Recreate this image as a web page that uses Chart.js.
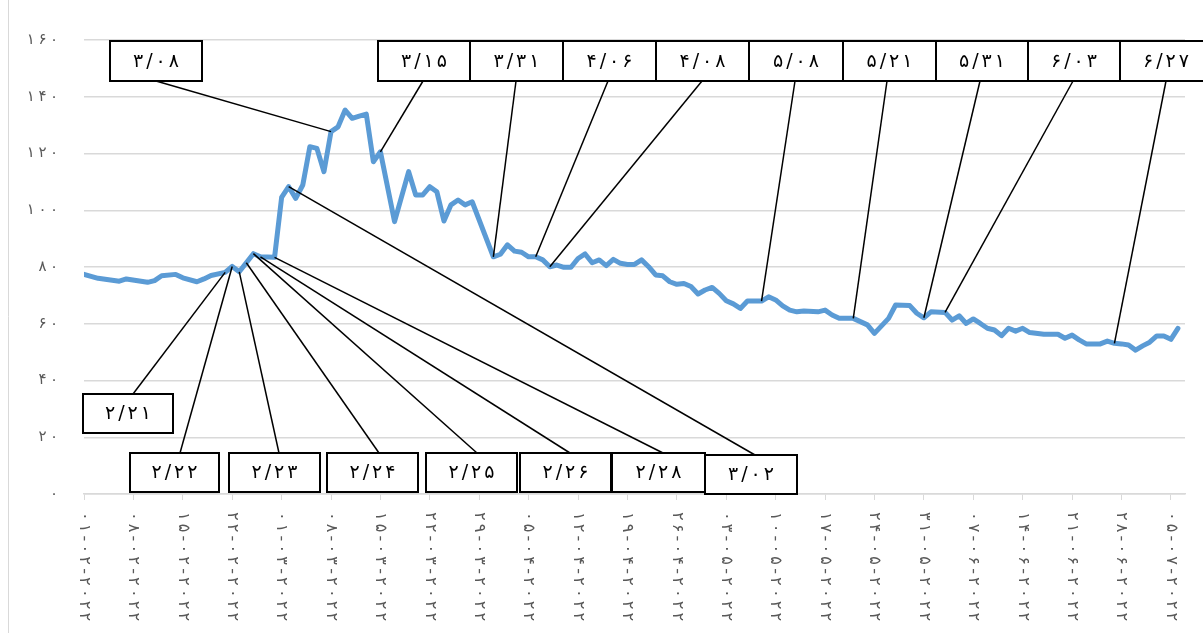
<!DOCTYPE html>
<html>
<head>
<meta charset="utf-8">
<script src="https://cdn.jsdelivr.net/npm/chart.js@4.4.0/dist/chart.umd.min.js"></script>
<style>
  html, body { margin: 0; padding: 0; background: #fff; }
  #wrap { width: 1203px; height: 633px; position: relative; }
</style>
</head>
<body>
<div id="wrap"><canvas id="chart"></canvas></div>
<script>
const year = 2022;
const startDate = '2022-02-01';
const endDay = 156;

// dates of the line's vertices (MM-DD) and the values read at them
const pointDates = [
  '02-01','02-03','02-06','02-07','02-10','02-11','02-12','02-14','02-15','02-17',
  '02-18','02-19','02-21','02-22','02-23','02-25','02-26','02-28','03-01','03-02',
  '03-03','03-04','03-05','03-06','03-07','03-08','03-09','03-10','03-11','03-12',
  '03-13','03-14','03-15','03-17','03-19','03-20','03-21','03-22','03-23','03-24',
  '03-25','03-26','03-27','03-28','03-31','04-01','04-02','04-03','04-04','04-05',
  '04-06','04-07','04-08','04-09','04-10','04-11','04-12','04-13','04-14','04-15',
  '04-16','04-17','04-18','04-19','04-20','04-21','04-22','04-23','04-24','04-25',
  '04-26','04-27','04-28','04-29','04-30','05-01','05-02','05-03','05-04','05-05',
  '05-06','05-08','05-09','05-10','05-11','05-12','05-13','05-14','05-16','05-17',
  '05-18','05-19','05-21','05-23','05-24','05-26','05-27','05-29','05-30','05-31',
  '06-01','06-03','06-04','06-05','06-06','06-07','06-08','06-09','06-10','06-11',
  '06-12','06-13','06-14','06-15','06-17','06-19','06-20','06-21','06-22','06-23',
  '06-25','06-26','06-27','06-28','06-29','06-30','07-01','07-02','07-03','07-04',
  '07-05','07-06'
];
const pointValues = [
  77.4, 76.0, 75.0, 75.8, 74.6, 75.2, 76.9, 77.4, 76.2, 74.8,
  75.8, 77.0, 78.1, 80.2, 78.3, 84.7, 83.6, 83.4, 104.5, 108.3,
  104.2, 108.9, 122.4, 121.8, 113.6, 127.7, 129.4, 135.3, 132.4, 133.2,
  133.9, 117.1, 120.6, 96.0, 113.6, 105.4, 105.4, 108.3, 106.5, 96.2,
  101.9, 103.6, 101.9, 103.0, 83.6, 84.5, 87.8, 85.6, 85.2, 83.6,
  83.6, 82.5, 80.1, 80.7, 79.9, 79.9, 83.0, 84.6, 81.5, 82.5,
  80.5, 82.7, 81.3, 80.9, 80.9, 82.5, 80.1, 77.2, 76.9, 74.8,
  73.9, 74.2, 73.1, 70.5, 71.9, 72.8, 70.7, 68.1, 67.0, 65.4,
  68.0, 68.0, 69.5, 68.4, 66.3, 64.8, 64.2, 64.5, 64.2, 64.8,
  63.1, 61.9, 61.9, 59.6, 56.6, 61.9, 66.6, 66.4, 63.7, 62.1,
  64.2, 64.0, 61.3, 62.8, 60.1, 61.7, 60.1, 58.4, 57.8, 55.8,
  58.4, 57.4, 58.4, 56.9, 56.3, 56.3, 54.9, 56.0, 54.3, 52.9,
  52.9, 53.9, 53.1, 52.9, 52.5, 50.7, 52.2, 53.5, 55.7, 55.7,
  54.5, 58.4
];

const yTickValues = [0, 20, 40, 60, 80, 100, 120, 140, 160];

// annotated dates (MM-DD)
const calloutDates = [
  '02-21','02-22','02-23','02-24','02-25','02-26','02-28','03-02',
  '03-08','03-15','03-31','04-06','04-08','05-08','05-21','05-31','06-03','06-27'
];
// box placement for each callout: [left, top, width, height, leader x, leader y]
const calloutBoxes = [
  [83, 394, 90, 39, 133, 394],
  [130, 453, 89, 39, 180, 453],
  [229, 453, 91, 39, 279, 453],
  [327, 453, 91, 39, 379, 453],
  [426, 453, 91, 39, 477, 453],
  [520, 453, 91, 39, 570, 453],
  [612, 453, 93, 39, 663, 453],
  [705, 455, 92, 39, 755, 455],
  [110, 41, 92, 40, 156, 81],
  [378, 41, 92, 40, 423, 81],
  [470, 41, 93, 40, 516, 81],
  [563, 41, 93, 40, 608, 81],
  [656, 41, 93, 40, 702, 81],
  [749, 41, 94, 40, 795, 81],
  [843, 41, 93, 40, 887, 81],
  [936, 41, 92, 40, 980, 81],
  [1028, 41, 92, 40, 1073, 81],
  [1120, 41, 92, 40, 1166, 81]
];

const faDigits = '۰۱۲۳۴۵۶۷۸۹';
function toFa(s) {
  return String(s).replace(/\d/g, d => faDigits[d]);
}
function dayIndex(md) {
  return (Date.parse(year + '-' + md) - Date.parse(startDate)) / 86400000;
}
function dateLabel(day) {
  const d = new Date(Date.parse(startDate) + day * 86400000);
  const dd = String(d.getUTCDate()).padStart(2, '0');
  const mm = String(d.getUTCMonth() + 1).padStart(2, '0');
  return toFa(dd + '-' + mm + '-' + d.getUTCFullYear());
}
function calloutText(md) {
  const [m, d] = md.split('-');
  return toFa(parseInt(m, 10) + '/' + d);
}

// draw text char by char with extra spacing; align = 'left' | 'center' | 'right'
function spacedText(ctx, text, x, y, gap, align) {
  const chars = Array.from(text);
  const widths = chars.map(c => ctx.measureText(c).width);
  const total = widths.reduce((a, b) => a + b, 0) + gap * (chars.length - 1);
  let cx = align === 'right' ? x - total : align === 'center' ? x - total / 2 : x;
  ctx.textAlign = 'left';
  chars.forEach((c, i) => {
    ctx.fillText(c, cx, y);
    cx += widths[i] + gap;
  });
}

const points = pointDates.map((md, i) => ({ x: dayIndex(md), y: pointValues[i] }));

function valueAt(day) {
  for (let i = 1; i < points.length; i++) {
    if (points[i].x >= day) {
      const a = points[i - 1], b = points[i];
      return a.y + (b.y - a.y) * (day - a.x) / (b.x - a.x);
    }
  }
  return points[points.length - 1].y;
}

const overlay = {
  id: 'overlay',
  afterDatasetsDraw(chart) {
    const ctx = chart.ctx;
    const xs = chart.scales.x;
    const ys = chart.scales.y;
    ctx.save();

    // outer frame line on the left
    ctx.strokeStyle = '#d9d9d9';
    ctx.lineWidth = 1;
    ctx.beginPath();
    ctx.moveTo(8.5, 0);
    ctx.lineTo(8.5, 633);
    ctx.stroke();

    // y tick labels
    ctx.fillStyle = '#595959';
    ctx.font = '15px "DejaVu Sans"';
    ctx.textBaseline = 'middle';
    ys.ticks.forEach(t => {
      spacedText(ctx, toFa(t.value), 58, ys.getPixelForValue(t.value), 3.5, 'right');
    });

    // x tick labels, turned clockwise
    ctx.font = '16px "DejaVu Sans"';
    xs.ticks.forEach(t => {
      const px = xs.getPixelForValue(t.value);
      ctx.save();
      ctx.translate(px, 512);
      ctx.rotate(Math.PI / 2);
      spacedText(ctx, dateLabel(t.value), 0, 0, 3.2, 'left');
      ctx.restore();
    });

    // leader lines
    ctx.strokeStyle = '#000';
    ctx.lineWidth = 1.5;
    calloutDates.forEach((md, i) => {
      const b = calloutBoxes[i];
      const day = dayIndex(md);
      const tx = xs.getPixelForValue(day);
      const ty = ys.getPixelForValue(valueAt(day));
      ctx.beginPath();
      ctx.moveTo(b[4], b[5]);
      ctx.lineTo(tx, ty);
      ctx.stroke();
    });

    // boxes
    ctx.font = '19px "DejaVu Sans"';
    calloutDates.forEach((md, i) => {
      const b = calloutBoxes[i];
      ctx.fillStyle = '#fff';
      ctx.fillRect(b[0], b[1], b[2], b[3]);
      ctx.strokeStyle = '#000';
      ctx.lineWidth = 2;
      ctx.strokeRect(b[0], b[1], b[2], b[3]);
      ctx.fillStyle = '#000';
      spacedText(ctx, calloutText(md), b[0] + b[2] / 2, b[1] + b[3] / 2 + 1, 3, 'center');
    });

    ctx.restore();
  }
};

new Chart(document.getElementById('chart'), {
  type: 'line',
  data: {
    datasets: [{
      data: points,
      borderColor: '#5b9bd5',
      borderWidth: 5,
      pointRadius: 0,
      tension: 0,
      borderJoinStyle: 'round',
      borderCapStyle: 'round',
      fill: false
    }]
  },
  options: {
    responsive: true,
    maintainAspectRatio: false,
    animation: false,
    layout: { padding: { top: 40, right: 18, left: 0, bottom: 0 } },
    plugins: {
      legend: { display: false },
      tooltip: { enabled: false }
    },
    scales: {
      x: {
        type: 'linear',
        min: 0,
        max: endDay,
        afterBuildTicks: s => {
          const t = [];
          for (let v = 0; v <= endDay; v += 7) t.push({ value: v });
          s.ticks = t;
        },
        afterFit: s => { s.height = 139; },
        ticks: { display: false },
        grid: { display: true, drawOnChartArea: false, drawTicks: true, tickLength: 6, color: '#d9d9d9' },
        border: { display: true, color: '#d9d9d9', width: 1.5 }
      },
      y: {
        min: 0,
        max: 160,
        afterBuildTicks: s => { s.ticks = yTickValues.map(v => ({ value: v })); },
        afterFit: s => { s.width = 84; },
        ticks: { display: false },
        grid: { color: '#d9d9d9', lineWidth: 1.5, drawTicks: false },
        border: { display: false }
      }
    }
  },
  plugins: [overlay]
});
</script>
</body>
</html>
